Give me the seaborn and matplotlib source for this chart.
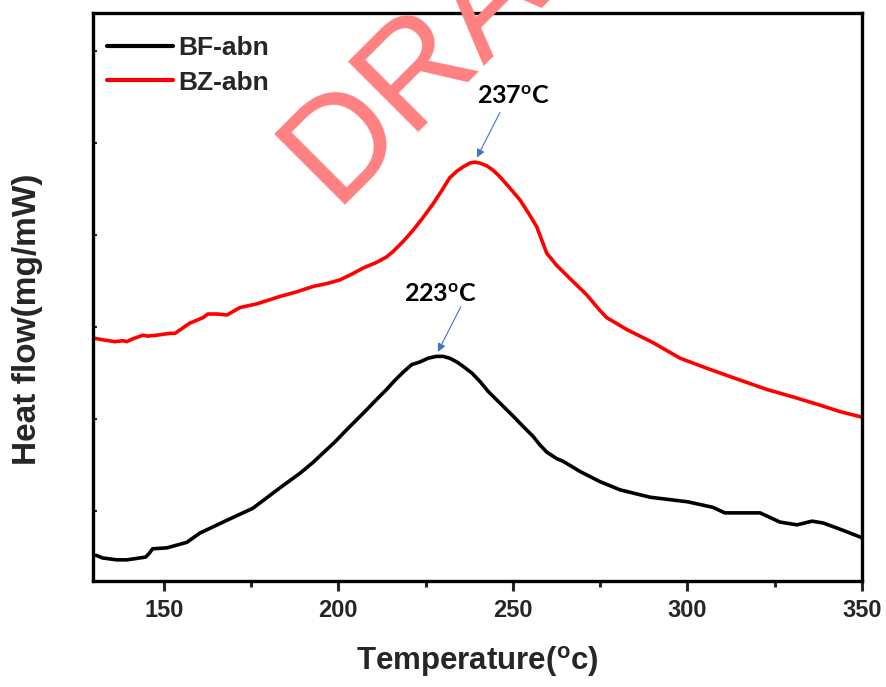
import matplotlib
matplotlib.use('Agg')
import matplotlib.pyplot as plt
from matplotlib.ticker import MultipleLocator
import seaborn as sns
import pandas as pd

# BF-abn curve (temperature in C, heat flow in arbitrary units)
temp_bf = [130.5, 132.5, 136.5, 139.4, 143.1, 144.8, 145.8, 146.8, 150.9, 156.6,
           160.3, 168.1, 175.5, 183.2, 186.1, 189.0, 192.8, 195.6, 199.0, 202.3,
           205.2, 208.1, 210.9, 213.8, 216.2, 218.6, 221.0, 223.4, 225.7, 228.1,
           230.0, 231.9, 233.9, 235.8, 238.2, 240.5, 242.9, 245.3, 247.7, 250.1,
           252.9, 255.8, 257.7, 259.7, 262.5, 264.4, 269.2, 274.9, 280.7, 289.3,
           300.1, 307.3, 310.7, 320.8, 326.5, 331.4, 335.7, 338.9, 344.6, 350.0]
flow_bf = [-0.48, -0.51, -0.53, -0.53, -0.51, -0.50, -0.46, -0.41, -0.40, -0.34,
           -0.24, -0.10, 0.03, 0.25, 0.33, 0.41, 0.53, 0.63, 0.75, 0.88,
           0.99, 1.10, 1.21, 1.32, 1.42, 1.51, 1.59, 1.62, 1.66, 1.68,
           1.68, 1.66, 1.62, 1.57, 1.50, 1.41, 1.30, 1.21, 1.12, 1.03,
           0.92, 0.81, 0.72, 0.64, 0.57, 0.54, 0.43, 0.32, 0.23, 0.15,
           0.10, 0.04, -0.02, -0.02, -0.12, -0.15, -0.11, -0.13, -0.21, -0.29]

# BZ-abn curve
temp_bz = [129.7, 132.5, 136.0, 138.3, 139.4, 141.1, 144.0, 145.4, 148.0, 151.7,
           153.2, 157.4, 161.2, 162.6, 165.2, 168.1, 171.8, 176.6, 183.2, 188.0,
           192.8, 196.6, 200.4, 204.2, 207.1, 210.9, 213.8, 215.7, 218.6, 221.4,
           224.3, 227.2, 229.6, 231.9, 233.9, 235.8, 237.7, 239.1, 240.5, 242.5,
           244.4, 246.3, 249.1, 252.0, 254.4, 256.8, 258.2, 259.7, 262.5, 267.3,
           271.1, 274.9, 276.9, 282.7, 290.1, 297.9, 305.6, 313.0, 322.8, 330.2,
           338.0, 343.7, 350.0]
flow_bz = [1.88, 1.86, 1.84, 1.85, 1.84, 1.87, 1.91, 1.90, 1.91, 1.93,
           1.93, 2.04, 2.10, 2.14, 2.14, 2.13, 2.21, 2.25, 2.33, 2.38,
           2.44, 2.47, 2.51, 2.58, 2.64, 2.70, 2.76, 2.82, 2.93, 3.05,
           3.19, 3.34, 3.48, 3.62, 3.69, 3.74, 3.78, 3.79, 3.78, 3.75,
           3.70, 3.63, 3.51, 3.38, 3.24, 3.09, 2.95, 2.80, 2.67, 2.49,
           2.35, 2.18, 2.10, 1.97, 1.83, 1.66, 1.55, 1.45, 1.32, 1.24,
           1.15, 1.08, 1.02]

# peak annotations: label, text position, arrow tail, arrow tip
peak_labels = ['237$\\mathregular{^o}$C', '223$\\mathregular{^o}$C']
peak_text_xy = [(250.0, 4.50), (229.1, 2.35)]
peak_tail_xy = [(246.3, 4.33), (235.1, 2.22)]
peak_tip_xy = [(239.7, 3.84), (228.5, 1.73)]

df = pd.concat([
    pd.DataFrame({'Temperature': temp_bf, 'Heat flow': flow_bf, 'Sample': 'BF-abn'}),
    pd.DataFrame({'Temperature': temp_bz, 'Heat flow': flow_bz, 'Sample': 'BZ-abn'}),
])

sns.set_theme(style='ticks')
plt.rcParams['font.family'] = ['Liberation Sans', 'DejaVu Sans']

fig = plt.figure(figsize=(8.87, 6.87), dpi=100)
ax = fig.add_axes([0.1048, 0.1543, 0.867, 0.8268])

sns.lineplot(data=df, x='Temperature', y='Heat flow', hue='Sample',
             palette={'BF-abn': 'black', 'BZ-abn': '#FF0000'},
             linewidth=2.6, sort=False, estimator=None, ax=ax)

ax.set_xlim(129.7, 350)
ax.set_ylim(-0.76, 5.41)
ax.xaxis.set_major_locator(MultipleLocator(50))
ax.xaxis.set_minor_locator(MultipleLocator(25))
ax.yaxis.set_major_locator(MultipleLocator(1))
ax.set_yticklabels([])
ax.tick_params(axis='x', which='major', direction='out', length=7, width=2.2,
               labelsize=17, pad=6)
ax.tick_params(axis='x', which='minor', direction='out', length=4, width=2.2)
ax.tick_params(axis='y', which='major', direction='in', length=3, width=1.5)
for lab in ax.get_xticklabels():
    lab.set_fontweight('bold')
for sp in ax.spines.values():
    sp.set_linewidth(2.4)
    sp.set_color('black')

ax.set_xlabel('Temperature($\\mathregular{^o}$c)', fontsize=22.5, fontweight='bold', labelpad=16)
ax.set_ylabel('Heat flow(mg/mW)', fontsize=24, fontweight='bold')
ax.yaxis.set_label_coords(-0.065, 0.461)

leg = ax.legend(loc='upper left', bbox_to_anchor=(0.005, 0.978), frameon=False,
                fontsize=19, handlelength=2.5, labelspacing=0.4,
                borderaxespad=0, handletextpad=0.2)
for t in leg.get_texts():
    t.set_fontweight('bold')
for h in leg.get_lines():
    h.set_linewidth(3)

for lab, txy, tail, tip in zip(peak_labels, peak_text_xy, peak_tail_xy, peak_tip_xy):
    ax.text(txy[0], txy[1], lab, ha='center', va='center', fontsize=18,
            fontweight='bold', family=['Lato', 'DejaVu Sans'], color='black')
    ax.annotate('', xy=tip, xytext=tail,
                arrowprops=dict(arrowstyle='-|>', color='#4472C4', lw=0.8,
                                mutation_scale=12, shrinkA=0, shrinkB=0))

# watermark
fig.text(0.375, 0.7016, 'DRAFT', fontsize=104, color='#FF8080', rotation=45,
         rotation_mode='anchor', ha='left', va='baseline',
         family=['Liberation Sans', 'DejaVu Sans'], zorder=0)

fig.savefig('out.png', dpi=100, facecolor='white')
